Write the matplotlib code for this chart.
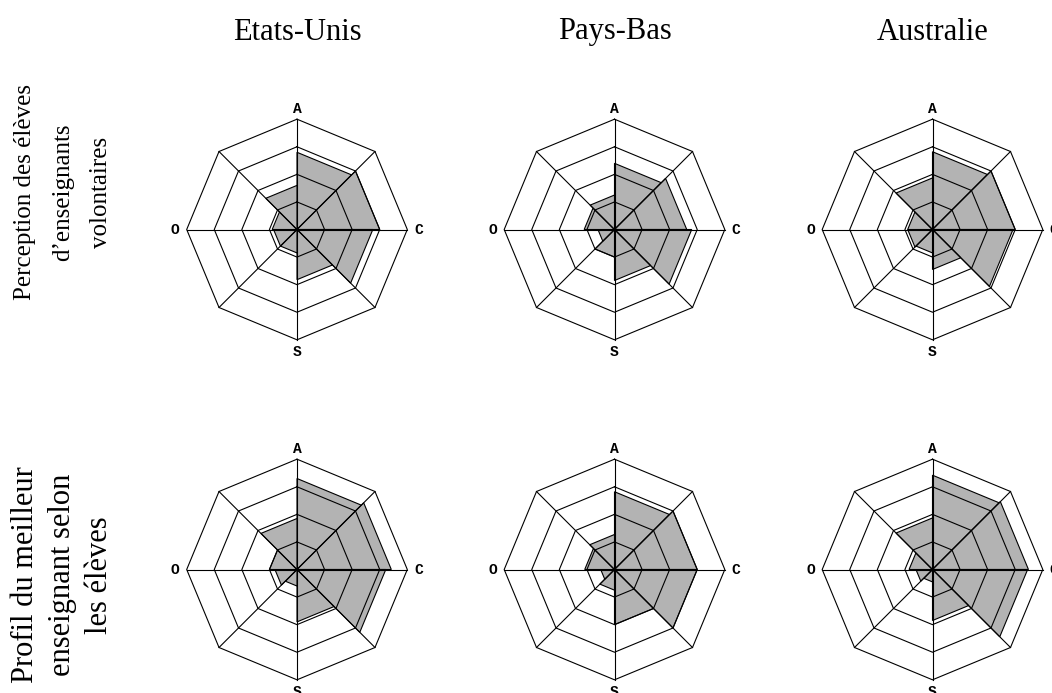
import numpy as np
import matplotlib
matplotlib.use("Agg")
import matplotlib.pyplot as plt
from matplotlib.patches import Polygon

# ---- data ----
countries = ["Etats-Unis", "Pays-Bas", "Australie"]
row_labels = ["Perception des élèves\nd’enseignants\nvolontaires",
              "Profil du meilleur\nenseignant selon\nles élèves"]
axis_labels = ["A", "", "C", "", "S", "", "O", ""]
rings = [1, 2, 3, 4]

# sector values, clockwise from A (A-NE, NE-C, C-SE, SE-S, S-SW, SW-O, O-NW, NW-A)
us_volunteers = [2.8, 3.0, 2.75, 1.82, 0.85, 0.85, 0.9, 1.6]
nl_volunteers = [2.4, 2.62, 2.8, 1.85, 1.0, 0.6, 1.1, 1.25]
au_volunteers = [2.82, 3.0, 2.92, 1.45, 0.85, 0.9, 0.9, 1.87]
us_best = [3.3, 3.42, 3.22, 1.9, 0.6, 0.8, 1.0, 1.85]
nl_best = [2.82, 3.0, 3.0, 2.0, 0.75, 0.5, 1.08, 1.27]
au_best = [3.42, 3.48, 3.45, 1.85, 0.45, 0.6, 0.85, 1.87]

grid_values = [[us_volunteers, nl_volunteers, au_volunteers],
               [us_best, nl_best, au_best]]

# ---- layout ----
W, H = 1052, 693
fig = plt.figure(figsize=(W / 100, H / 100), dpi=100)

col_cx = [297, 614.5, 932.5]
row_cy = [229.5, 569.5]
radius_px = 110.3
unit_px = radius_px / 4
half = 4.8
half_px = half * unit_px

angles = np.deg2rad(90 - 45 * np.arange(8))
ux, uy = np.cos(angles), np.sin(angles)

lab_off = {"A": (0, 0.36), "C": (0.4, 0), "S": (0, -0.43), "O": (-0.42, 0)}

for r, row in enumerate(grid_values):
    for c, vals in enumerate(row):
        cx, cy = col_cx[c], row_cy[r]
        ax = fig.add_axes([(cx - half_px) / W, (H - cy - half_px) / H,
                           2 * half_px / W, 2 * half_px / H])
        ax.set_xlim(-half, half)
        ax.set_ylim(-half, half)
        ax.axis("off")
        # sectors
        for i, v in enumerate(vals):
            j = (i + 1) % 8
            pts = [(0, 0), (v * ux[i], v * uy[i]), (v * ux[j], v * uy[j])]
            ax.add_patch(Polygon(pts, closed=True, facecolor="#b3b3b3",
                                 edgecolor="black", linewidth=0.8, zorder=1,
                                 joinstyle="miter"))
        # rings
        for rv in rings:
            xs = np.append(rv * ux, rv * ux[0])
            ys = np.append(rv * uy, rv * uy[0])
            ax.plot(xs, ys, color="black", linewidth=0.8, zorder=2,
                    solid_joinstyle="miter")
        # spokes
        for k in range(8):
            ax.plot([0, rings[-1] * ux[k]], [0, rings[-1] * uy[k]],
                    color="black", linewidth=0.8, zorder=2)
        # axis labels
        for k, lab in enumerate(axis_labels):
            if not lab:
                continue
            dx, dy = lab_off[lab]
            ax.text(rings[-1] * ux[k] + dx, rings[-1] * uy[k] + dy, lab,
                    family="Liberation Mono", fontweight="bold", fontsize=10.5,
                    ha="center", va="center", clip_on=False)

# column titles
for c, name in enumerate(countries):
    fig.text(col_cx[c] / W, 1 - 32 / H, name, family="Liberation Serif",
             fontsize=22, ha="center", va="center")

# row labels
row_label_cy = [192, 575]
row_label_x = [63, 62.5]
row_label_fs = [18, 22]
row_label_ls = [1.94, 1.37]
for r, lab in enumerate(row_labels):
    fig.text(row_label_x[r] / W, 1 - row_label_cy[r] / H, lab,
             family="Liberation Serif", fontsize=row_label_fs[r],
             ha="center", va="center", rotation=90,
             multialignment="center", linespacing=row_label_ls[r])

fig.savefig("out.png", dpi=100, facecolor="white")
